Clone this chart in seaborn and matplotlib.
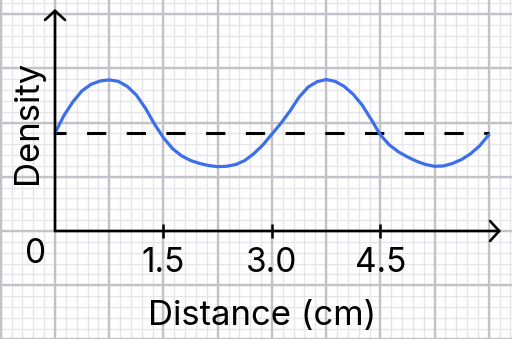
import numpy as np
import pandas as pd
import matplotlib
matplotlib.use("Agg")
import matplotlib.pyplot as plt
import seaborn as sns

# ---- data ----
distance_cm = [0.000, 0.125, 0.250, 0.375, 0.500, 0.625, 0.750, 0.875, 1.000, 1.125, 1.250, 1.375,
               1.500, 1.625, 1.750, 1.875, 2.000, 2.125, 2.250, 2.375, 2.500, 2.625, 2.750, 2.875,
               3.000, 3.125, 3.250, 3.375, 3.500, 3.625, 3.750, 3.875, 4.000, 4.125, 4.250, 4.375,
               4.500, 4.625, 4.750, 4.875, 5.000, 5.125, 5.250, 5.375, 5.500, 5.625, 5.750, 5.875,
               6.000]
density = [1.355, 1.60, 1.79, 1.94, 2.03, 2.075, 2.09, 2.07, 2.00, 1.88, 1.70, 1.48,
           1.29, 1.14, 1.04, 0.975, 0.935, 0.905, 0.89, 0.895, 0.92, 0.975, 1.07, 1.19,
           1.34, 1.49, 1.66, 1.85, 1.99, 2.065, 2.095, 2.07, 2.00, 1.89, 1.74, 1.54,
           1.33, 1.19, 1.095, 1.025, 0.965, 0.92, 0.895, 0.90, 0.935, 0.99, 1.07, 1.18,
           1.33]
baseline_density = 1.355
baseline_span = [0.0, 6.0]
tick_values = [1.5, 3.0, 4.5]
tick_labels = ["1.5", "3.0", "4.5"]
origin_label = "0"
x_label = "Distance (cm)"
y_label = "Density"

df = pd.DataFrame({"Distance (cm)": distance_cm, "Density": density})

sns.set_theme(style="white")
plt.rcParams["font.family"] = ["Inter", "DejaVu Sans"]

fig = plt.figure(figsize=(5.12, 3.39), dpi=100)
ax = fig.add_axes([0, 0, 1, 1])
fig.patch.set_facecolor("white")
ax.set_facecolor("white")

px = 72.3  # pixels per data unit
ax.set_xlim(-55 / px, (512 - 55) / px)
ax.set_ylim((231 - 339) / px, 231 / px)

# graph-paper grid
for v in np.arange(-0.75, 6.5, 0.15):
    ax.axvline(v, color="#e6e6ea", lw=1.0, zorder=0)
for h in np.arange(-1.5, 3.3, 0.15):
    ax.axhline(h, color="#e6e6ea", lw=1.0, zorder=0)
for v in np.arange(-0.75, 6.5, 0.75):
    ax.axvline(v, color="#c2c2c8", lw=1.7, zorder=0.5)
for h in np.arange(-1.5, 3.3, 0.75):
    ax.axhline(h, color="#c2c2c8", lw=1.7, zorder=0.5)

# dashed reference line
ax.hlines(baseline_density, baseline_span[0], baseline_span[1], colors="black",
          lw=2.2, linestyles=[(2.7, (6.3, 6.7))], zorder=3)

# wave
sns.lineplot(data=df, x="Distance (cm)", y="Density", ax=ax, color="#3d6fec",
             lw=2.3, zorder=4, legend=False)

# axes with arrow heads
arrow_kw = dict(arrowstyle="->,head_length=0.33,head_width=0.36", lw=1.9,
                color="black", shrinkA=0, shrinkB=0, mutation_scale=20)
ax.annotate("", xy=(446 / px, 0), xytext=(0, 0), arrowprops=arrow_kw, zorder=5)
ax.annotate("", xy=(0, 222 / px), xytext=(0, 0), arrowprops=arrow_kw, zorder=5)

for s in ax.spines.values():
    s.set_visible(False)
ax.spines["bottom"].set_position(("data", 0))
ax.spines["left"].set_position(("data", 0))
ax.set_xticks(tick_values)
ax.set_xticklabels(tick_labels)
ax.set_yticks([])
ax.tick_params(axis="x", direction="inout", length=10, width=1.8, color="black",
               labelsize=24, pad=6.5, labelcolor="black", bottom=True)

ax.text(-19 / px, -23 / px, origin_label, ha="center", va="center", fontsize=24, color="black")
ax.set_xlabel("")
ax.set_ylabel("")
ax.text(262 / px - 55 / px, (231 - 325) / px, x_label, ha="center", va="baseline",
        fontsize=25, color="black")
ax.text(-18 / px, 109 / px, y_label, rotation=90, rotation_mode="anchor",
        ha="center", va="baseline", fontsize=25, color="black")

fig.savefig("out.png", dpi=100)
